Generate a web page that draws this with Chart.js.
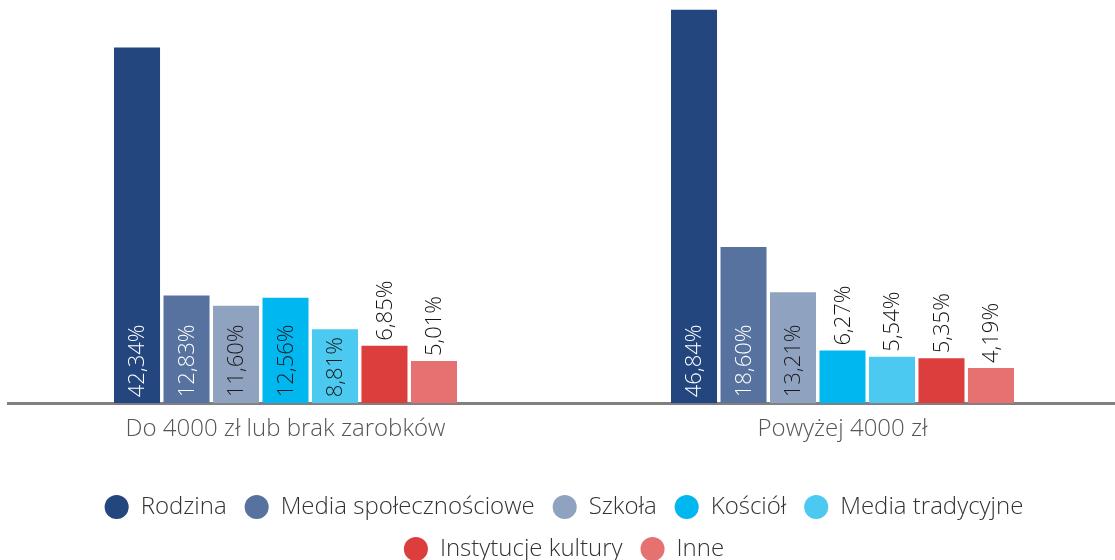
<!DOCTYPE html>
<html lang="pl">
<head>
  <meta charset="UTF-8" />
  <title>Źródła wartości wg dochodu</title>
  <script src="https://cdn.jsdelivr.net/npm/chart.js"></script>
  <style>
    html, body {
      margin: 0;
      padding: 0;
      background: #ffffff;
      overflow: hidden;
    }
    #wrap {
      position: relative;
      width: 1114px;
      height: 560px;
      margin-left: 7px;
    }
  </style>
</head>
<body>
  <div id="wrap">
    <canvas id="chart"></canvas>
  </div>

  <script>
    const categories = ["Do 4000 zł lub brak zarobków", "Powyżej 4000 zł"];
    const seriesNames = [
      "Rodzina", "Media społecznościowe", "Szkoła", "Kościół",
      "Media tradycyjne", "Instytucje kultury", "Inne"
    ];
    const rodzina = [42.34, 46.84];
    const mediaSpol = [12.83, 18.60];
    const szkola = [11.60, 13.21];
    const kosciol = [12.56, 6.27];
    const mediaTrad = [8.81, 5.54];
    const instytucje = [6.85, 5.35];
    const inne = [5.01, 4.19];

    const seriesColors = ["#23467f", "#5872a0", "#8fa3c1", "#00b8ef", "#4bc9f1", "#dc3e3d", "#e57170"];
    const labelColors = ["#ffffff", "#ffffff", "#1a1a1a", "#1a1a1a", "#1a1a1a", "#1a1a1a", "#1a1a1a"];
    const allValues = [rodzina, mediaSpol, szkola, kosciol, mediaTrad, instytucje, inne];

    const FONT = "'Open Sans', Lato, sans-serif";

    // labels drawn rotated, inside tall bars and above short ones
    const barLabels = {
      id: "barLabels",
      afterDatasetsDraw(chart) {
        const ctx = chart.ctx;
        ctx.save();
        ctx.font = "300 22px " + FONT;
        ctx.textBaseline = "middle";
        chart.data.datasets.forEach((ds, di) => {
          const meta = chart.getDatasetMeta(di);
          meta.data.forEach((bar, i) => {
            const v = ds.data[i];
            const txt = v.toFixed(2).replace(".", ",") + "%";
            ctx.save();
            if (v >= 8) {
              ctx.translate(bar.x, bar.base - 6);
              ctx.fillStyle = labelColors[di];
            } else {
              ctx.translate(bar.x, bar.y - 5);
              ctx.fillStyle = "#111111";
            }
            ctx.rotate(-Math.PI / 2);
            ctx.textAlign = "left";
            ctx.fillText(txt, 0, 1);
            ctx.restore();
          });
        });
        ctx.restore();
      }
    };

    new Chart(document.getElementById("chart"), {
      type: "bar",
      data: {
        labels: categories,
        datasets: seriesNames.map((name, i) => ({
          label: name,
          data: allValues[i],
          backgroundColor: seriesColors[i],
          borderWidth: 0,
          categoryPercentage: 0.622,
          barPercentage: 0.93
        }))
      },
      options: {
        responsive: true,
        maintainAspectRatio: false,
        animation: false,
        layout: { padding: { top: 0, left: 0, right: 0, bottom: -11 } },
        scales: {
          x: {
            grid: { display: false, drawTicks: false },
            border: { display: true, color: "#808080", width: 3 },
            ticks: {
              color: "#555555",
              padding: 12,
              font: { family: FONT, size: 24, weight: "300" }
            },
            afterFit(scale) {
              scale.height += 21;
            }
          },
          y: {
            display: false,
            min: 0,
            max: 48
          }
        },
        plugins: {
          legend: {
            position: "bottom",
            labels: {
              usePointStyle: true,
              pointStyle: "circle",
              boxHeight: 17,
              padding: 18,
              color: "#333333",
              font: { family: FONT, size: 24, weight: "300" }
            }
          },
          tooltip: { enabled: false }
        }
      },
      plugins: [barLabels]
    });
  </script>
</body>
</html>
